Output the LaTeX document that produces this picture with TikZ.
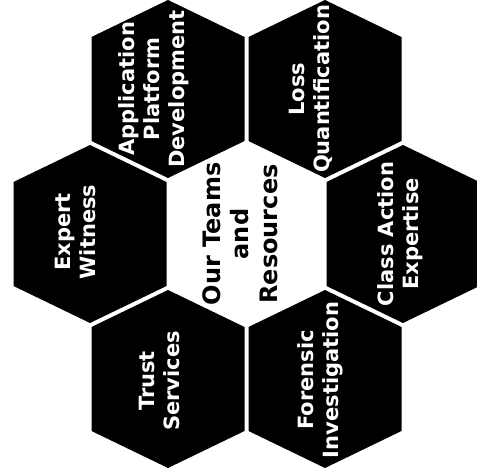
\documentclass[tikz,border=0pt]{standalone}
\usepackage{fontspec}
\setmainfont{DejaVu Sans}
\begin{document}
\begin{tikzpicture}[x=1pt,y=1pt,
  hexagon/.pic={\path[pic actions] (0,89)--(76.5,52)--(76.5,-52)--(0,-89)--(-76.5,-52)--(-76.5,52)--cycle;},
  outerhex/.style={fill=black},
  innerhex/.style={fill=white},
  lbl/.style={text=white, font=\bfseries\fontsize{21}{25}\selectfont, align=center, rotate=90, inner sep=0pt},
  clbl/.style={text=black, font=\bfseries\fontsize{24}{28.5}\selectfont, align=center, rotate=90, inner sep=0pt}]
\useasboundingbox (0,0) rectangle (477,476);
\coordinate (app) at (168,387);
\coordinate (loss) at (325,387);
\coordinate (expert) at (90,242);
\coordinate (ctr) at (246.5,242);
\coordinate (class) at (403,242);
\coordinate (trust) at (168,97);
\coordinate (forensic) at (325,97);
\pic[outerhex] at (app) {hexagon};
\pic[outerhex] at (loss) {hexagon};
\pic[outerhex] at (expert) {hexagon};
\pic[innerhex] at (ctr) {hexagon};
\pic[outerhex] at (class) {hexagon};
\pic[outerhex] at (trust) {hexagon};
\pic[outerhex] at (forensic) {hexagon};
\node[lbl] (tapp) at (154,387) {Application\\Platform\\Development};
\node[lbl] (tloss) at (311,387) {Loss\\Quantification};
\node[lbl] (texpert) at (75,244) {Expert\\Witness};
\node[lbl] (tclass) at (400,242) {Class Action\\Expertise};
\node[lbl] (ttrust) at (159,95) {Trust\\Services};
\node[lbl] (tforensic) at (320,96) {Forensic\\Investigation};
\node[clbl] (tctr) at (240,242) {Our Teams\\and\\Resources};
\end{tikzpicture}
\end{document}
